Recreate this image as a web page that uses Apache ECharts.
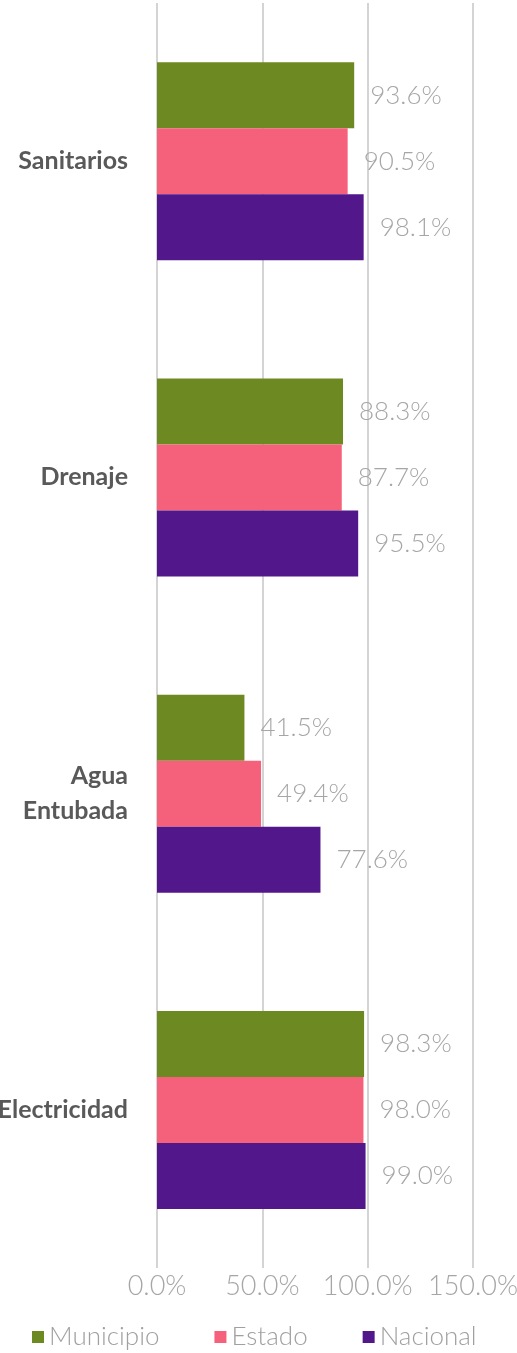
<!DOCTYPE html>
<html>
<head>
<meta charset="utf-8">
<script src="https://cdn.jsdelivr.net/npm/echarts@6/dist/echarts.min.js"></script>
<style>
  html, body { margin: 0; padding: 0; background: #fff; }
  #chart { width: 517px; height: 1353px; }
</style>
</head>
<body>
<div id="chart"></div>
<script>
// categories, bottom to top as the y axis draws them
const categories = ['Electricidad', 'Agua Entubada', 'Drenaje', 'Sanitarios']
const municipio = [98.3, 41.5, 88.3, 93.6]
const estado = [98.0, 49.4, 87.7, 90.5]
const nacional = [99.0, 77.6, 95.5, 98.1]
const xTicks = { min: 0, max: 150, interval: 50 }

const labelFont = 'Lato, "Open Sans", sans-serif'

const chart = echarts.init(document.getElementById('chart'))

const barLabel = {
  show: true,
  position: 'right',
  distance: 16,
  color: '#a6a6a6',
  fontFamily: labelFont,
  fontWeight: 300,
  fontSize: 26,
  formatter: p => p.value.toFixed(1) + '%'
}

const makeSeries = (name, data, color) => ({
  name: name,
  type: 'bar',
  data: data,
  barWidth: 66,
  barGap: '0%',
  itemStyle: { color: color },
  label: barLabel
})

const option = {
  animation: false,
  grid: {
    left: 157,
    right: 44,
    top: 3,
    bottom: 85,
    outerBoundsMode: 'none'
  },
  legend: {
    data: ['Municipio', 'Estado', 'Nacional'],
    bottom: -2,
    left: 27,
    itemWidth: 12,
    itemHeight: 12,
    itemGap: 55,
    icon: 'rect',
    textStyle: {
      color: '#a0a0a0',
      fontFamily: labelFont,
      fontWeight: 300,
      fontSize: 26
    }
  },
  xAxis: {
    type: 'value',
    min: xTicks.min,
    max: xTicks.max,
    interval: xTicks.interval,
    axisLine: { show: false },
    axisTick: { show: false },
    splitLine: { lineStyle: { color: '#d4d4d4', width: 2 } },
    axisLabel: {
      margin: 5,
      color: '#a6a6a6',
      fontFamily: labelFont,
      fontWeight: 300,
      fontSize: 27,
      formatter: v => v.toFixed(1) + '%'
    }
  },
  yAxis: {
    type: 'category',
    data: categories,
    axisLine: { show: false },
    axisTick: { show: false },
    axisLabel: {
      margin: 29,
      color: '#595959',
      fontFamily: labelFont,
      fontWeight: 'bold',
      fontSize: 25,
      lineHeight: 35,
      align: 'right',
      formatter: v => v.replace(' ', '\n')
    }
  },
  series: [
    makeSeries('Municipio', municipio, '#6d8922'),
    makeSeries('Estado', estado, '#f5617a'),
    makeSeries('Nacional', nacional, '#52178a')
  ]
}

chart.setOption(option)
</script>
</body>
</html>
